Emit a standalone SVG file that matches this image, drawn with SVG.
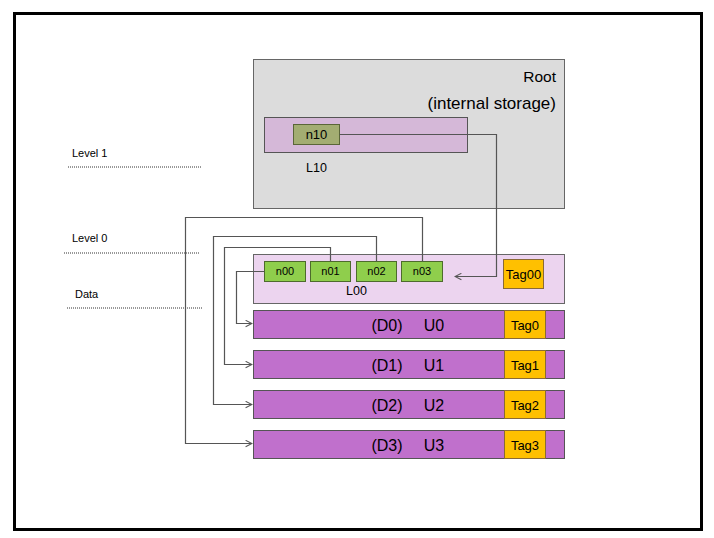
<svg xmlns="http://www.w3.org/2000/svg" width="714" height="538" viewBox="0 0 714 538">
<defs>
<style>
text{font-family:"Liberation Sans",Arial,sans-serif;fill:#000}
.lbl{font-size:11px}
.big{font-size:16px}
.sm{font-size:11px}
.md{font-size:12.5px}
.tg{font-size:13px}
.tag{fill:#ffc000;stroke:#8a6a35;stroke-width:1}
.nd{fill:#8fce4c;stroke:#4d6b2c;stroke-width:1}
.bar{fill:#c070cc;stroke:#555;stroke-width:1}
.dot{stroke:#333;stroke-width:1;stroke-dasharray:1 1;fill:none}
.con{fill:none;stroke:#555;stroke-width:1.2}
</style>
<marker id="ah" viewBox="0 0 10 10" refX="9" refY="5" markerWidth="8" markerHeight="8" markerUnits="userSpaceOnUse" orient="auto">
<path d="M1,1 L9,5 L1,9" fill="none" stroke="#555" stroke-width="1.3"/>
</marker>
</defs>
<rect x="0" y="0" width="714" height="538" fill="#fff"/>
<rect x="14.5" y="13.5" width="687" height="516" fill="none" stroke="#000" stroke-width="3"/>

<g id="levels">
<text class="lbl" x="72" y="157">Level 1</text>
<line class="dot" x1="68" y1="167" x2="201" y2="167"/>
<text class="lbl" x="72" y="242">Level 0</text>
<line class="dot" x1="64" y1="253" x2="200" y2="253"/>
<text class="lbl" x="75" y="298">Data</text>
<line class="dot" x1="67" y1="308" x2="203" y2="308"/>
</g>

<g id="root">
<rect x="253.5" y="59.5" width="311" height="149" fill="#dcdcdc" stroke="#666" stroke-width="1"/>
<text x="556" y="82" font-size="15.5" text-anchor="end">Root</text>
<text x="556" y="108.5" font-size="17" text-anchor="end">(internal storage)</text>
</g>

<g id="L10">
<rect x="264.5" y="117.5" width="203" height="35" fill="#d5b8d8" stroke="#555" stroke-width="1"/>
<text class="md" x="306" y="172">L10</text>
</g>
<g id="n10">
<rect x="293.5" y="124.5" width="46" height="20" fill="#a3ad72" stroke="#5a6638" stroke-width="1"/>
<text x="316.5" y="139" font-size="13" text-anchor="middle">n10</text>
</g>

<g id="L00">
<rect x="253.5" y="254.5" width="311" height="49" fill="#ecd4ef" stroke="#666" stroke-width="1"/>
<text class="md" x="346" y="295">L00</text>
</g>
<g id="n00"><rect class="nd" x="264.5" y="261.5" width="41" height="20"/><text class="sm" x="285" y="275" text-anchor="middle">n00</text></g>
<g id="n01"><rect class="nd" x="310.5" y="261.5" width="40" height="20"/><text class="sm" x="330.5" y="275" text-anchor="middle">n01</text></g>
<g id="n02"><rect class="nd" x="356.5" y="261.5" width="40" height="20"/><text class="sm" x="376.5" y="275" text-anchor="middle">n02</text></g>
<g id="n03"><rect class="nd" x="401.5" y="261.5" width="41" height="20"/><text class="sm" x="422" y="275" text-anchor="middle">n03</text></g>
<g id="Tag00"><rect class="tag" x="503.5" y="259.5" width="40" height="29"/><text class="tg" x="523.5" y="278.5" text-anchor="middle">Tag00</text></g>

<g id="U0">
<rect class="bar" x="253.5" y="310.5" width="311" height="28"/>
<rect class="tag" x="504.5" y="310.5" width="41" height="28"/>
<text class="big" x="387" y="331" text-anchor="middle">(D0)</text>
<text class="big" x="434" y="331" text-anchor="middle">U0</text>
<text class="tg" x="525" y="329.5" text-anchor="middle">Tag0</text>
</g>
<g id="U1">
<rect class="bar" x="253.5" y="350.5" width="311" height="28"/>
<rect class="tag" x="504.5" y="350.5" width="41" height="28"/>
<text class="big" x="387" y="371" text-anchor="middle">(D1)</text>
<text class="big" x="434" y="371" text-anchor="middle">U1</text>
<text class="tg" x="525" y="369.5" text-anchor="middle">Tag1</text>
</g>
<g id="U2">
<rect class="bar" x="253.5" y="390.5" width="311" height="28"/>
<rect class="tag" x="504.5" y="390.5" width="41" height="28"/>
<text class="big" x="387" y="411" text-anchor="middle">(D2)</text>
<text class="big" x="434" y="411" text-anchor="middle">U2</text>
<text class="tg" x="525" y="409.5" text-anchor="middle">Tag2</text>
</g>
<g id="U3">
<rect class="bar" x="253.5" y="430.5" width="311" height="28"/>
<rect class="tag" x="504.5" y="430.5" width="41" height="28"/>
<text class="big" x="387" y="451" text-anchor="middle">(D3)</text>
<text class="big" x="434" y="451" text-anchor="middle">U3</text>
<text class="tg" x="525" y="449.5" text-anchor="middle">Tag3</text>
</g>

<g id="connectors">
<path class="con" d="M339.5,134.5 H496.5 V276.5 H455" marker-end="url(#ah)"/>
<path class="con" d="M264.5,271.5 H236.5 V323.5 H252" marker-end="url(#ah)"/>
<path class="con" d="M330.5,261.5 V247.5 H224.5 V364.5 H252" marker-end="url(#ah)"/>
<path class="con" d="M376.5,261.5 V236.5 H213.5 V404.5 H252" marker-end="url(#ah)"/>
<path class="con" d="M422.5,261.5 V217.5 H185.5 V443.5 H252" marker-end="url(#ah)"/>
</g>
</svg>
